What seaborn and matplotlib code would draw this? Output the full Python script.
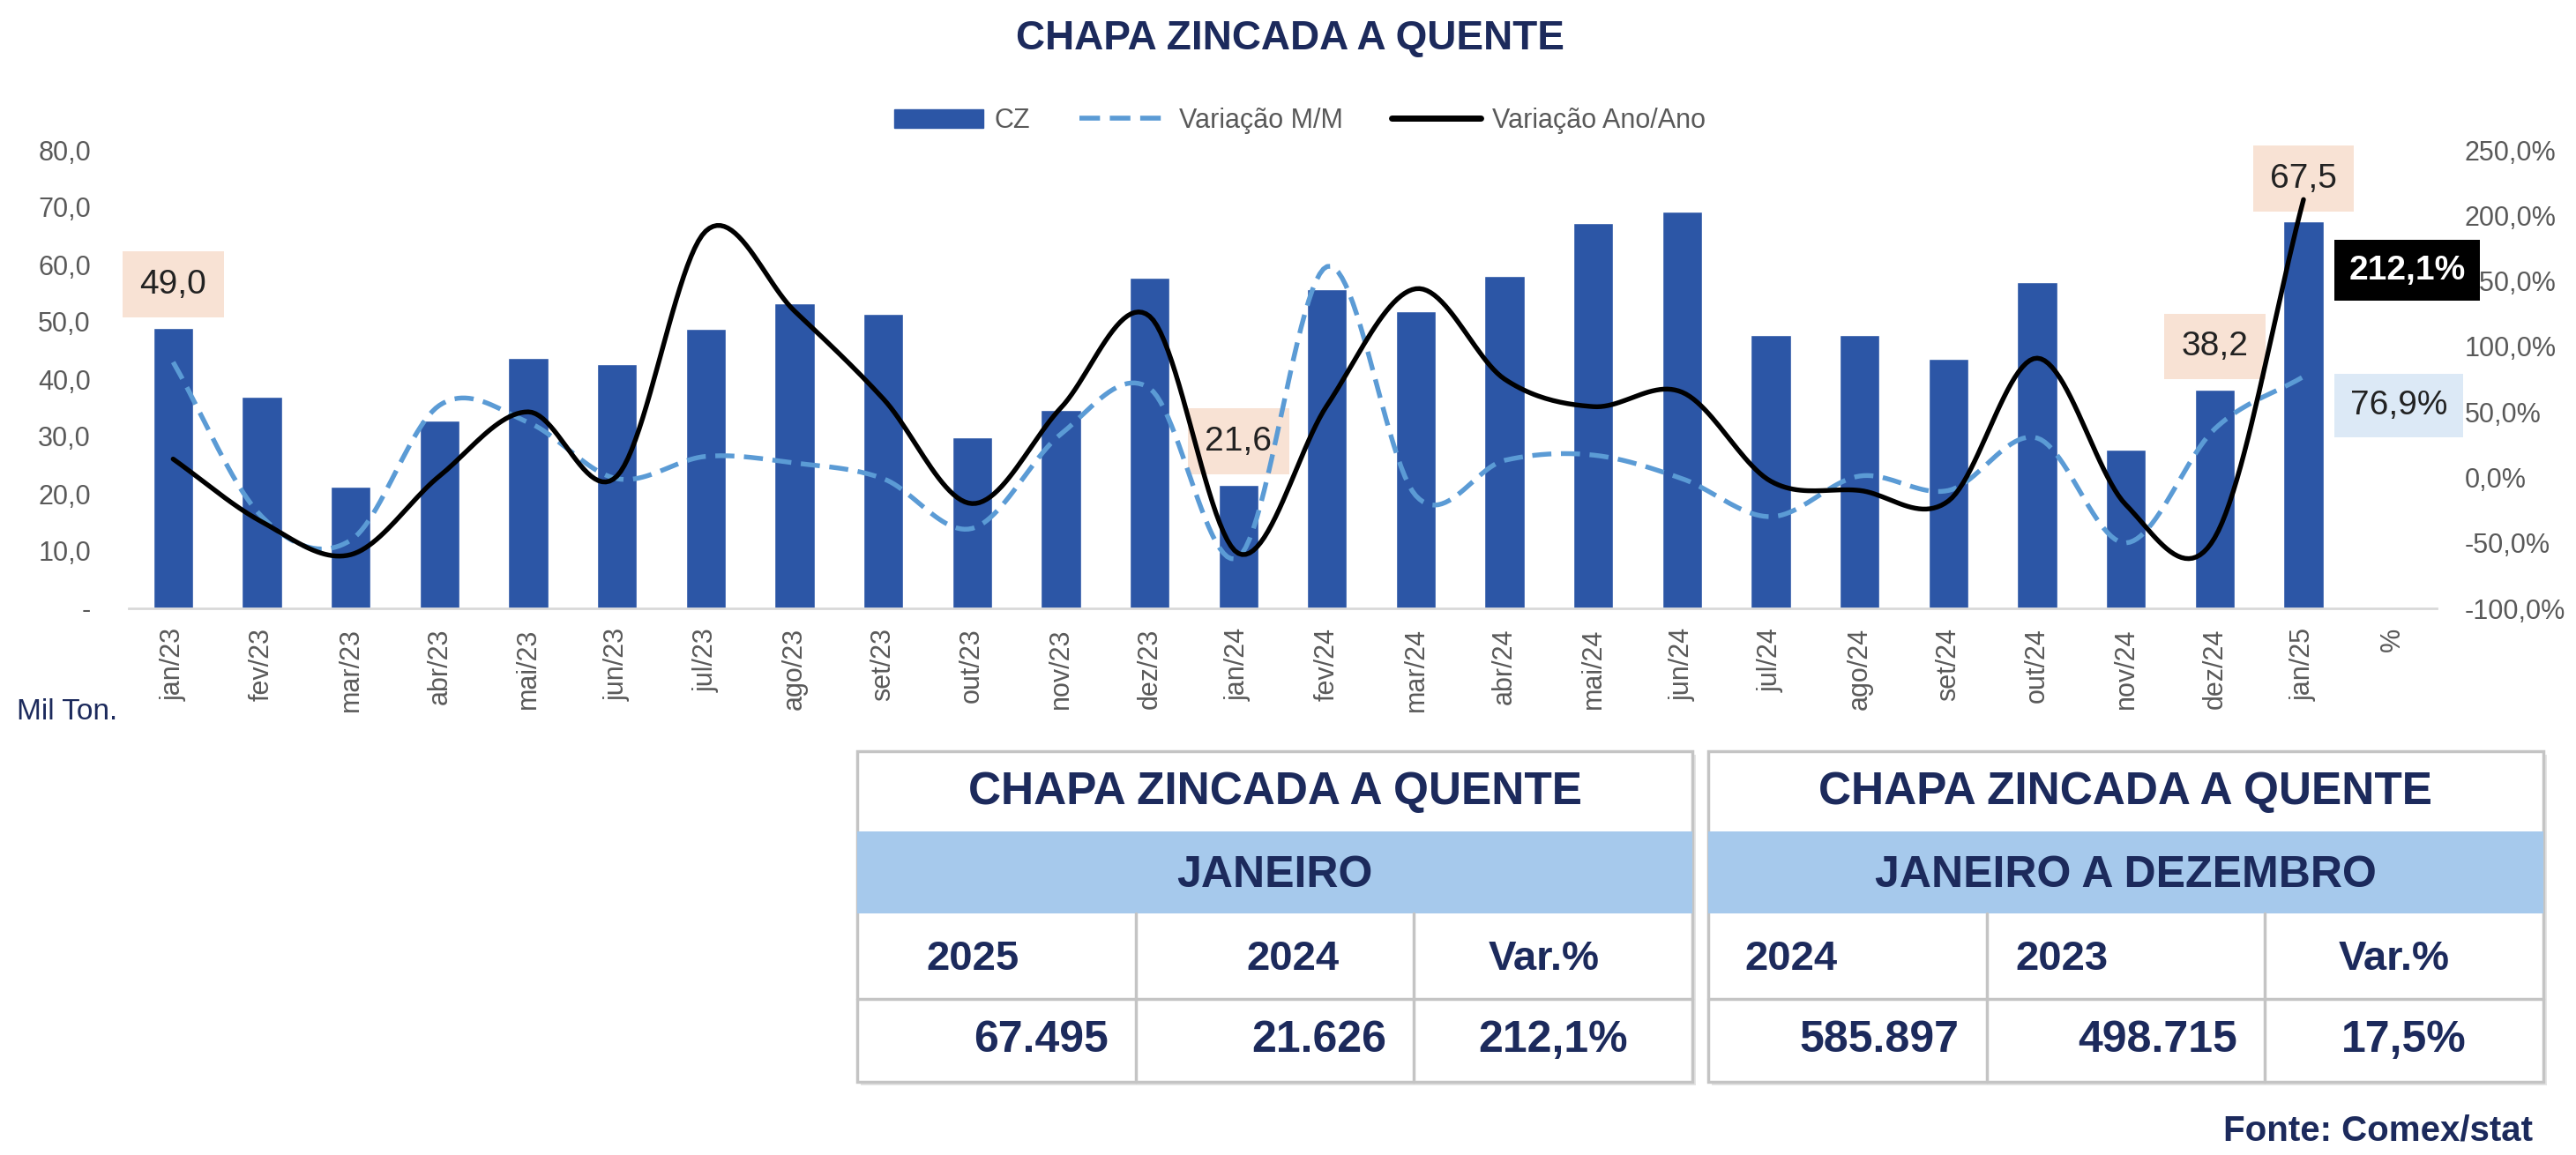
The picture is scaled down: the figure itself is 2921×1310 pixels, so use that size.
import numpy as np
import matplotlib
matplotlib.use("Agg")
import matplotlib.pyplot as plt
import seaborn as sns
from matplotlib.patches import Rectangle, Patch
from matplotlib.lines import Line2D

# ---- data ----
months = ["jan/23", "fev/23", "mar/23", "abr/23", "mai/23", "jun/23", "jul/23", "ago/23",
          "set/23", "out/23", "nov/23", "dez/23", "jan/24", "fev/24", "mar/24", "abr/24",
          "mai/24", "jun/24", "jul/24", "ago/24", "set/24", "out/24", "nov/24", "dez/24",
          "jan/25"]
cz = [49.0, 36.9, 21.3, 32.8, 43.7, 42.6, 48.8, 53.3, 51.4, 29.8, 34.6, 57.7,
      21.6, 55.7, 51.8, 58.0, 67.2, 69.3, 47.7, 47.7, 43.6, 56.9, 27.7, 38.2, 67.5]
var_mm = [88, -30, -48, 55, 42, -1, 16, 11, -1, -39, 33, 68,
          -61, 161, -14, 13, 17, -1, -30, 1, -10, 30, -50, 37, 76.9]
var_aa = [14, -34, -59, 1, 50, 1, 188, 127, 60, -20, 53, 123,
          -58, 55, 144, 75, 54, 65, -3, -10, -18, 91, -21, -46, 212.1]
labelled = ["jan/23", "jan/24", "dez/24", "jan/25"]

left_ticks = [0, 10, 20, 30, 40, 50, 60, 70, 80]
right_ticks = [-100, -50, 0, 50, 100, 150, 200, 250]

table_title = "CHAPA ZINCADA A QUENTE"
t1_period = "JANEIRO"
t1_heads = ["2025", "2024", "Var.%"]
t1_vals = ["67.495", "21.626", "212,1%"]
t2_period = "JANEIRO A DEZEMBRO"
t2_heads = ["2024", "2023", "Var.%"]
t2_vals = ["585.897", "498.715", "17,5%"]

# ---- style ----
W, H = 2921, 1310
NAVY = "#1C2A5C"
BAR = "#2C56A6"
MM = "#5B9BD5"
GRAY = "#595959"
PEACH = "#F8E2D4"
LBLUE = "#DCE9F6"
BAND = "#A6C9EC"
FONT = "Liberation Sans"

sns.set_theme(style="white")
plt.rcParams["font.family"] = [FONT, "DejaVu Sans"]


def br(v, d=1):
    return f"{v:.{d}f}".replace(".", ",")


def smooth(y, n=24):
    # Catmull-Rom curve through the points, like Excel's smoothed line
    y = np.asarray(y, float)
    p = np.concatenate([[2 * y[0] - y[1]], y, [2 * y[-1] - y[-2]]])
    xs, ys = [], []
    t = np.linspace(0, 1, n, endpoint=False)
    for i in range(len(y) - 1):
        p0, p1, p2, p3 = p[i:i + 4]
        seg = 0.5 * (2 * p1 + (-p0 + p2) * t + (2 * p0 - 5 * p1 + 4 * p2 - p3) * t ** 2
                     + (-p0 + 3 * p1 - 3 * p2 + p3) * t ** 3)
        xs.append(i + t)
        ys.append(seg)
    xs.append([len(y) - 1])
    ys.append([y[-1]])
    return np.concatenate(xs), np.concatenate(ys)


fig = plt.figure(figsize=(W / 100, H / 100), dpi=100)
rect = [146 / W, 1 - 690 / H, (2763 - 146) / W, (690 - 170) / H]

# bars (left axis)
ax = fig.add_axes(rect)
cats = months + ["%"]
sns.barplot(x=months, y=cz, order=cats, color=BAR, saturation=1, width=0.45, ax=ax)
ax.set_xlim(-0.5, len(cats) - 0.5)
ax.set_ylim(0, 80)
ax.set_yticks(left_ticks)
ax.set_yticklabels(["-"] + [br(v) for v in left_ticks[1:]], color=GRAY, fontsize=22)
ax.set_xticks(range(len(cats)))
ax.set_xticklabels(cats, rotation=90, color=GRAY, fontsize=22)
ax.tick_params(axis="x", length=0, pad=16)
ax.tick_params(axis="y", length=0, pad=31)
ax.set_xlabel("")
ax.set_ylabel("")
sns.despine(ax=ax, left=True)
ax.spines["bottom"].set_color("#D9D9D9")
ax.spines["bottom"].set_linewidth(2)

for i, m in enumerate(months):
    if m in labelled:
        ax.text(i, cz[i] + 7.5, br(cz[i]), ha="center", va="center", fontsize=28,
                color="#222222",
                bbox=dict(boxstyle="square,pad=0.5", fc=PEACH, ec="none"))

# lines (right axis)
ax2 = fig.add_axes(rect, facecolor="none")
xs, ys = smooth(var_mm)
sns.lineplot(x=xs, y=ys, ax=ax2, color=MM, lw=3.9, ls=(0, (4, 2)),
             estimator=None, sort=False)
xs, ys = smooth(var_aa)
sns.lineplot(x=xs, y=ys, ax=ax2, color="black", lw=3.9, estimator=None, sort=False)
ax2.set_xlim(-0.5, len(cats) - 0.5)
ax2.set_ylim(-100, 250)
ax2.set_xticks([])
ax2.yaxis.tick_right()
ax2.set_yticks(right_ticks)
ax2.set_yticklabels([br(v) + "%" for v in right_ticks], color=GRAY, fontsize=22)
ax2.tick_params(axis="y", length=0, pad=23)
ax2.set_xlabel("")
ax2.set_ylabel("")
for s in ax2.spines.values():
    s.set_visible(False)

last = len(months) - 1
ax2.text(last + 1.17, 158, br(var_aa[-1]) + "%", ha="center", va="center", fontsize=28,
         color="white", fontweight="bold",
         bbox=dict(boxstyle="square,pad=0.42", fc="black", ec="none"))
ax2.text(last + 1.07, 55, br(var_mm[-1]) + "%", ha="center", va="center", fontsize=28,
         color="#222222",
         bbox=dict(boxstyle="square,pad=0.46", fc=LBLUE, ec="none"))

# legend
handles = [Patch(color=BAR),
           Line2D([], [], color=MM, lw=4, ls=(0, (4.2, 2))),
           Line2D([], [], color="black", lw=5)]
fig.legend(handles, ["CZ", "Variação M/M", "Variação Ano/Ano"], loc="center",
           bbox_to_anchor=(1474 / W, 1 - 137 / H), ncol=3, frameon=False,
           fontsize=22, labelcolor=GRAY, handlelength=3.3, handleheight=0.7,
           handletextpad=0.42, columnspacing=1.8)

fig.text(1463 / W, 1 - 44 / H, table_title, ha="center", va="center", fontsize=33,
         fontweight="bold", color=NAVY)
fig.text(19 / W, 1 - 808 / H, "Mil Ton.", ha="left", va="center", fontsize=24, color=NAVY)

# ---- summary tables (pixel coordinates) ----
ov = fig.add_axes([0, 0, 1, 1])
ov.set_zorder(-5)
ov.set_xlim(0, W)
ov.set_ylim(H, 0)
ov.axis("off")

LINE = "#C4C4C4"


def draw_table(x0, period, heads, vals, head_x):
    w = 947
    top, band_top, band_bot, mid, bot = 852, 943, 1036, 1133, 1227
    ov.add_patch(Rectangle((x0 + 4, top + 4), w, bot - top, fc="#E4E4E4", ec="none"))
    ov.add_patch(Rectangle((x0, top), w, bot - top, fc="white", ec=LINE, lw=2.5))
    ov.add_patch(Rectangle((x0, band_top), w, band_bot - band_top, fc=BAND, ec="none"))
    ov.plot([x0, x0 + w], [mid, mid], color=LINE, lw=2.5)
    for k in (1, 2):
        xx = x0 + k * w / 3
        ov.plot([xx, xx], [band_bot, bot], color=LINE, lw=2.5)
    ov.text(x0 + w / 2, 899, table_title, ha="center", va="center", fontsize=37,
            fontweight="bold", color=NAVY)
    ov.text(x0 + w / 2, 993, period, ha="center", va="center", fontsize=36,
            fontweight="bold", color=NAVY)
    for hx, t in zip(head_x, heads):
        ov.text(x0 + hx, 1088, t, ha="center", va="center", fontsize=34,
                fontweight="bold", color=NAVY)
    # numbers right-aligned in their cell, percentages centred
    for k, t in enumerate(vals):
        if t.endswith("%"):
            ov.text(x0 + (k + 0.5) * w / 3, 1180, t, ha="center", va="center",
                    fontsize=36, fontweight="bold", color=NAVY)
        else:
            ov.text(x0 + (k + 1) * w / 3 - 31, 1180, t, ha="right", va="center",
                    fontsize=36, fontweight="bold", color=NAVY)


draw_table(972, t1_period, t1_heads, t1_vals, [131, 494, 779])
draw_table(1937, t2_period, t2_heads, t2_vals, [94, 401, 778])

fig.text(2872 / W, 1 - 1283 / H, "Fonte: Comex/stat", ha="right", va="center",
         fontsize=29, fontweight="bold", color=NAVY)

fig.savefig("out.png", dpi=100)
